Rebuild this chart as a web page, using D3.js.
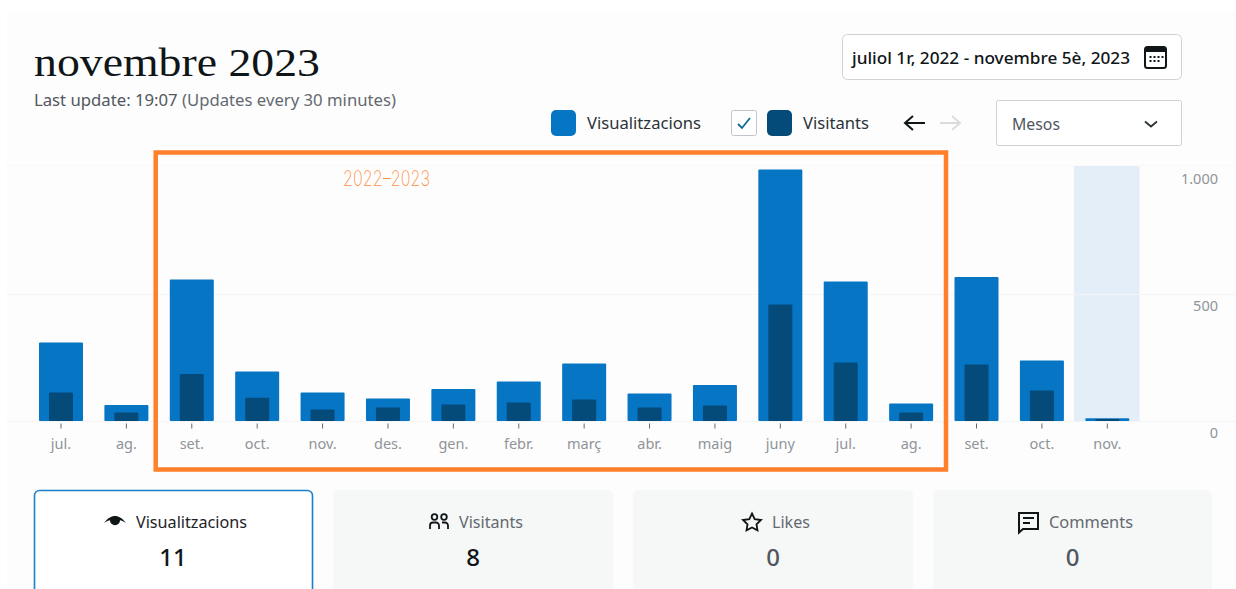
<!DOCTYPE html>
<html><head><meta charset="utf-8">
<script src="https://cdn.jsdelivr.net/npm/d3@7"></script>
<style>html,body{margin:0;padding:0;background:#fff}svg{display:block}text{font-family:"Noto Sans","Open Sans",sans-serif}</style>
</head><body><svg id="c" width="1236" height="589"></svg>
<script>
const months=["jul.","ag.","set.","oct.","nov.","des.","gen.","febr.","març","abr.","maig","juny","jul.","ag.","set.","oct.","nov."];
const views=[309,63,557,195,112,89,126,156,226,108,142,990,549,69,567,238,11];
const visitors=[112,33,185,92,45,53,65,73,85,53,61,459,230,33,222,120,8];
const yTicks=[0,500];
const yLabelValues=[0,500,1000];
const yTickLabels=["0","500","1.000"];
const cards=["Visualitzacions","Visitants","Likes","Comments"];
const cardValues=[11,8,0,0];

const svg=d3.select("#c");
const keys=months.map((m,i)=>i);
const x=d3.scaleBand().domain(keys).range([28.3,1140]).padding(0);
const y=d3.scaleLinear().domain([0,1000]).range([421,167]);
const BLUE="#0675c4",DARK="#044b7a",ORANGE="#ff7f2a",INK="#101517";
const fit=(s,w)=>s.attr("textLength",w).attr("lengthAdjust","spacingAndGlyphs");

svg.append("rect").attr("x",7).attr("y",12).attr("width",1229).attr("height",577).attr("fill","#fdfdfd");

// header
fit(svg.append("text").attr("x",34).attr("y",76).attr("font-size",41).attr("fill",INK)
  .style("font-family","'Liberation Serif',serif").text("novembre 2023"),286);
const upd=fit(svg.append("text").attr("x",34).attr("y",106).attr("font-size",16).attr("fill","#50575e"),362);
upd.append("tspan").text("Last update: 19:07 ");
upd.append("tspan").attr("fill","#646970").text("(Updates every 30 minutes)");

// date box
svg.append("rect").attr("x",842.5).attr("y",34.5).attr("width",339).attr("height",45).attr("rx",5).attr("fill","#fff").attr("stroke","#d0d3d6");
fit(svg.append("text").attr("x",852).attr("y",64).attr("font-size",16.5).attr("font-weight",500).attr("fill",INK).text("juliol 1r, 2022 - novembre 5è, 2023"),278);
const cal=svg.append("g").attr("transform","translate(1144,46)");
cal.append("rect").attr("x",1).attr("y",1).attr("width",21).attr("height",21).attr("rx",2.5).attr("fill","none").attr("stroke",INK).attr("stroke-width",2);
cal.append("rect").attr("x",1).attr("y",1).attr("width",21).attr("height",5).attr("fill",INK);
[[6,10],[10,10],[14,10],[18,10],[6,14],[10,14],[14,14]].forEach(([a,b])=>cal.append("rect").attr("x",a-.5).attr("y",b).attr("width",2).attr("height",2).attr("fill",INK));

// legend
svg.append("rect").attr("x",551).attr("y",110).attr("width",25).attr("height",26).attr("rx",5).attr("fill",BLUE);
fit(svg.append("text").attr("x",587).attr("y",129).attr("font-size",16).attr("fill","#2c3338").text("Visualitzacions"),114);
svg.append("rect").attr("x",731.5).attr("y",110.5).attr("width",25).attr("height",25).attr("rx",2).attr("fill","#fff").attr("stroke","#c3c4c7");
svg.append("path").attr("d","M738 124l4 4 8-10").attr("fill","none").attr("stroke","#0b6a94").attr("stroke-width",1.8);
svg.append("rect").attr("x",767).attr("y",110).attr("width",25).attr("height",26).attr("rx",5).attr("fill",DARK);
fit(svg.append("text").attr("x",803).attr("y",129).attr("font-size",16).attr("fill","#2c3338").text("Visitants"),66);
svg.append("path").attr("d","M925 123H905M913 116l-8 7 8 7").attr("fill","none").attr("stroke",INK).attr("stroke-width",2);
svg.append("path").attr("d","M940 123H960M952 116l8 7-8 7").attr("fill","none").attr("stroke","#dcdcde").attr("stroke-width",2);
svg.append("rect").attr("x",996.5).attr("y",100.5).attr("width",185).attr("height",45).attr("rx",2).attr("fill","#fff").attr("stroke","#d0d3d6");
fit(svg.append("text").attr("x",1012).attr("y",130).attr("font-size",16).attr("fill","#50575e").text("Mesos"),48);
svg.append("path").attr("d","M1145 121.500l6 5 6-5").attr("fill","none").attr("stroke","#2c3338").attr("stroke-width",1.8);

// plot
svg.append("rect").attr("x",7).attr("y",165).attr("width",1229).attr("height",1).attr("fill","#f8f9f9");
svg.append("rect").attr("x",x(16)-.5).attr("y",166).attr("width",x.bandwidth()).attr("height",y(0)-166).attr("fill","#e3eef8");
svg.append("g").selectAll("line").data(yTicks).join("line")
  .attr("x1",7).attr("x2",1236).attr("y1",d=>Math.round(y(d))+.5).attr("y2",d=>Math.round(y(d))+.5)
  .attr("stroke","#f4f5f6");
svg.append("g").selectAll("text").data(yLabelValues).join("text")
  .attr("x",1218).attr("y",d=>y(d)+17).attr("text-anchor","end").attr("font-size",14.5).attr("fill","#8f9499")
  .text((d,i)=>yTickLabels[i]);

const bw=44,iw=24;
svg.append("g").selectAll("rect").data(views).join("rect")
  .attr("x",(d,i)=>x(i)+x.bandwidth()/2-bw/2).attr("width",bw)
  .attr("y",d=>y(d)).attr("height",d=>y(0)-y(d)).attr("rx",1).attr("fill",BLUE);
svg.append("g").selectAll("rect").data(visitors).join("rect")
  .attr("x",(d,i)=>x(i)+x.bandwidth()/2-iw/2).attr("width",iw)
  .attr("y",d=>y(d)).attr("height",d=>y(0)-y(d)).attr("rx",1).attr("fill",DARK);

const ax=svg.append("g").attr("transform","translate(0,423.500)")
  .call(d3.axisBottom(x).tickSize(5).tickPadding(10).tickFormat(i=>months[i]));
ax.select(".domain").remove();
ax.selectAll("line").attr("stroke","#646970");
ax.selectAll("text").attr("font-size",14.5).attr("fill","#8f9499").style("font-family","'Noto Sans',sans-serif");

// orange annotation
svg.append("rect").attr("x",155.7).attr("y",152.5).attr("width",790.3).attr("height",317).attr("fill","none").attr("stroke",ORANGE).attr("stroke-width",4.5);
fit(svg.append("text").attr("x",343).attr("y",186).attr("font-size",21).attr("font-weight",200).attr("fill","#ff8f45")
  .style("font-family","Inter,sans-serif").text("2022–2023"),87);

// cards
const cardX=[34,333,633,933],cardW=[278,280,280,279];
const labelX=[136,459,772,1049],labelW=[111,64,38,84];
cards.forEach((c,i)=>{
  const sel=i===0;
  svg.append("rect").attr("x",cardX[i]+(sel?.5:0)).attr("y",sel?490.5:490).attr("width",cardW[i]).attr("height",110).attr("rx",5)
    .attr("fill",sel?"#fff":"#f6f7f7").attr("stroke",sel?"#1a80cc":"none").attr("stroke-width",1.6);
  fit(svg.append("text").attr("x",labelX[i]).attr("y",528).attr("font-size",16.5).attr("fill",sel?"#1d2327":"#646970").text(c),labelW[i]);
  svg.append("text").attr("x",cardX[i]+cardW[i]/2).attr("y",566).attr("text-anchor","middle").attr("font-size",24).attr("font-weight",500)
    .attr("fill",i<2?INK:"#50575e").text(cardValues[i]);
});
// card icons
svg.append("path").attr("d","M104 523c4-5 7-7 11-7s7 2 11 7c-3-2-4.500-2.600-6-2.800a5 5 0 1 1-10 0c-1.500.2-3 .8-6 2.800z").attr("fill",INK);
const ppl=svg.append("g").attr("fill","none").attr("stroke",INK).attr("stroke-width",1.8);
ppl.append("circle").attr("cx",434.5).attr("cy",517).attr("r",2.8);
ppl.append("circle").attr("cx",444).attr("cy",517).attr("r",2.8);
ppl.append("path").attr("d","M430 529v-3.500a3 3 0 0 1 3-3h3a3 3 0 0 1 3 3v3.500M442 522.500h3a3 3 0 0 1 3 3v3.500");
svg.append("path").attr("d","M752 513.500l2.700 5.600 6.300.9-4.500 4.300 1 6.100-5.500-2.900-5.500 2.900 1-6.100-4.500-4.300 6.300-.9z").attr("fill","none").attr("stroke",INK).attr("stroke-width",1.8);
svg.append("path").attr("d","M1019 513h19v16h-15l-4 3.500z").attr("fill","none").attr("stroke",INK).attr("stroke-width",2);
svg.append("path").attr("d","M1023 518h11M1023 523h7").attr("fill","none").attr("stroke",INK).attr("stroke-width",1.8);
</script></body></html>
